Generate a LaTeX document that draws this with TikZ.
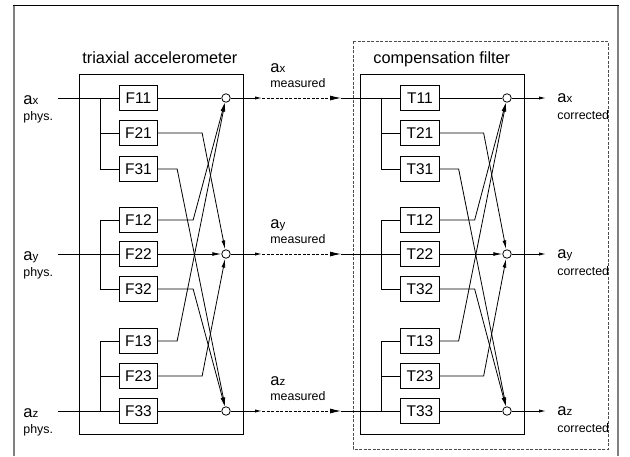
\documentclass[tikz,border=0pt]{standalone}
\usepackage{fontspec}
\setmainfont{Liberation Sans}
\usepackage{tikz}
\usetikzlibrary{arrows,arrows.meta,calc}
\usetikzlibrary{positioning}

\newcommand{\acc}[1]{{\fontsize{16.5}{18}\selectfont a}{\fontsize{11.5}{13}\selectfont #1}}

\begin{document}
\begin{tikzpicture}[x=1pt,y=-1pt,line width=0.8pt,
		>={Latex[length=9pt,width=3.8pt]},
		filt_box/.style={draw,minimum width=38.5pt,minimum height=25pt,inner sep=0pt,font=\fontsize{15.5}{17}\selectfont},
		sum_node/.style={circle,draw,fill=white,minimum size=8.5pt,inner sep=0pt},
		big_lbl/.style={anchor=base west,inner sep=0pt,font=\fontsize{16.3}{19}\selectfont},
		sig_lbl/.style={anchor=base west,inner sep=0pt},
		sub_lbl/.style={anchor=base west,inner sep=0pt,font=\fontsize{12.4}{14}\selectfont},
		link/.style={dashed,dash pattern=on 3pt off 1.5pt}]
	\useasboundingbox (0,0) rectangle (630,456);
	% outer frame (open at the bottom)
	\draw[black!50,line width=2.2pt] (14,4.5) -- (14,456);
	\draw[black!50,line width=1.4pt] (618,4.5) -- (618,456);
	\draw[line width=1pt] (13,5) -- (618.7,5);
	% stage boxes
	\draw (79,74) rectangle (243,434);
	\draw (360,74) rectangle (524,434);
	\draw[link,black!70] (353,41) rectangle (608,449);
	\node[big_lbl] (tri) at (82,63) {triaxial accelerometer};
	\node[big_lbl] (comp) at (373,63) {compensation filter};
	% filter blocks and sums
	\foreach \n/\y in {11/98,21/133,31/169,12/220,22/254,32/289,13/341,23/376,33/411} {
		\node[filt_box] (F\n) at (138.5,\y) {F\n};
		\node[filt_box] (T\n) at (420,\y) {T\n};
	}
	\foreach \s/\x in {F/226,T/507} {
		\node[sum_node] (sum\s x) at (\x,98) {};
		\node[sum_node] (sum\s y) at (\x,254) {};
		\node[sum_node] (sum\s z) at (\x,411) {};
	}
	% inputs
	\node[sig_lbl] (inx) at (23,104) {\acc{x}};
	\node[sub_lbl] (physx) at (23,120) {phys.};
	\node[sig_lbl] (iny) at (23,260) {\acc{y}};
	\node[sub_lbl] (physy) at (23,276) {phys.};
	\node[sig_lbl] (inz) at (23,417) {\acc{z}};
	\node[sub_lbl] (physz) at (23,433) {phys.};
	\coordinate (ix) at (58,98);
	\coordinate (iy) at (58,254);
	\coordinate (iz) at (58,411);
	% measured signals
	\node[sig_lbl] (mlx) at (270,72) {\acc{x}};
	\node[sub_lbl] (mmx) at (270,87.5) {measured};
	\node[sig_lbl] (mly) at (270,228) {\acc{y}};
	\node[sub_lbl] (mmy) at (270,243.5) {measured};
	\node[sig_lbl] (mlz) at (270,385) {\acc{z}};
	\node[sub_lbl] (mmz) at (270,400.5) {measured};
	\foreach \a/\y in {x/98,y/254,z/411} {
		\coordinate (m\a1) at (262,\y);
		\coordinate (m\a2) at (341,\y);
		\coordinate (c\a) at (546,\y);
	}
	% corrected outputs
	\node[sig_lbl] (olx) at (557,102) {\acc{x}};
	\node[sub_lbl] (ocx) at (557,119) {corrected};
	\node[sig_lbl] (oly) at (557,258) {\acc{y}};
	\node[sub_lbl] (ocy) at (557,275) {corrected};
	\node[sig_lbl] (olz) at (557,415) {\acc{z}};
	\node[sub_lbl] (ocz) at (557,432) {corrected};
	% branching into the blocks
	\draw (ix) -- (F11.west);
	\draw (iy) -- (F22.west);
	\draw (iz) -- (F33.west);
	\draw (mx2) -- (T11.west);
	\draw (my2) -- (T22.west);
	\draw (mz2) -- (T33.west);
	\foreach \s/\bx in {F/100,T/381} {
		\draw (\bx,98) |- (\s21.west);
		\draw (\bx,98) |- (\s31.west);
		\draw (\bx,254) |- (\s12.west);
		\draw (\bx,254) |- (\s32.west);
		\draw (\bx,411) |- (\s13.west);
		\draw (\bx,411) |- (\s23.west);
		% block outputs to the sums
		\draw (\s11) -- (sum\s x);
		\draw[->] (\s22) -- (sum\s y);
		\draw (\s33) -- (sum\s z);
		\draw[->] (\s12.east) -- ++(35,0) -- (sum\s x);
		\draw[->] (\s13.east) -- ++(19,0) -- (sum\s x);
		\draw[->] (\s21.east) -- ++(44,0) -- (sum\s y);
		\draw[->] (\s23.east) -- ++(44,0) -- (sum\s y);
		\draw[->] (\s31.east) -- ++(19,0) -- (sum\s z);
		\draw[->] (\s32.east) -- ++(35,0) -- (sum\s z);
	}
	% links between the stages
	\foreach \a in {x,y,z} {
		\draw[->,>={Latex[length=7pt,width=3.2pt]}] (sumF\a) -- (m\a1);
		\draw[->,link,>={Latex[length=11pt,width=5pt]}] (m\a1) -- (m\a2);
		\draw[->,>={Latex[length=7pt,width=3.2pt]}] (sumT\a) -- (c\a);
	}
\end{tikzpicture}
\end{document}
